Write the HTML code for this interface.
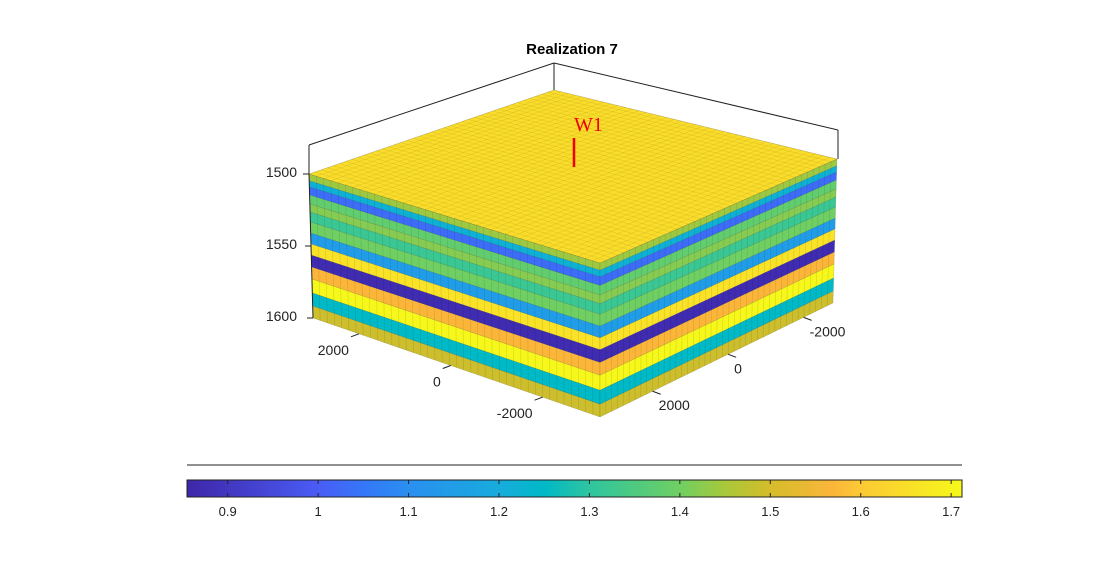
<!DOCTYPE html>
<html><head><meta charset="utf-8"><style>
body{margin:0;background:#fff;}
svg text{font-family:"Liberation Sans",Arial,sans-serif;}
</style></head><body>
<svg id="c" width="1111" height="556" viewBox="0 0 1111 556">
<rect width="1111" height="556" fill="#fff"/>
<text x="572" y="54" text-anchor="middle" font-size="15" font-weight="bold">Realization 7</text>
<g id="box" stroke="#222" stroke-width="1" fill="none">
<line x1="309" y1="145" x2="554" y2="63"/><line x1="554" y1="63" x2="838" y2="130"/>
<line x1="554" y1="63" x2="554" y2="90"/><line x1="309" y1="145" x2="309" y2="174"/><line x1="838" y1="130" x2="838" y2="159"/>
</g>
<g id="model"></g>
<g id="axes" font-size="14" fill="#222"></g>
<g>
<text x="574" y="131" style="font-family:'Liberation Serif',serif" font-size="20" fill="#e00">W1</text>
<line x1="574" y1="138" x2="574" y2="167" stroke="#e00" stroke-width="2.5"/>
</g>
<line x1="187" y1="465" x2="962" y2="465" stroke="#222"/>
<defs><linearGradient id="pg" x1="0" x2="1" y1="0" y2="0"></linearGradient></defs>
<rect x="187" y="480" width="775" height="17" fill="url(#pg)" stroke="#222" stroke-width="1"/>
<g id="cb" font-size="13" fill="#222"></g>
</svg>
<script>
const layerDepths=[1500,1504.7,1509,1514.6,1520.8,1526.4,1533.3,1541,1548.6,1556.3,1564.6,1572.9,1582.6,1591.7,1600];
const layerValues=[1.44,1.22,1.03,1.38,1.42,1.32,1.4,1.15,1.66,0.87,1.57,1.71,1.25,1.49];
const topValue=1.645;
const zTicks=[1500,1550,1600];
const xTicks=[2000,0,-2000];
const yTicks=[-2000,0,2000];
const cbTicks=[0.9,1,1.1,1.2,1.3,1.4,1.5,1.6,1.7];
const cmin=0.855,cmax=1.712;
const NS="http://www.w3.org/2000/svg";
const stops=[[0,"#3e26a8"],[0.169,"#4a5cf5"],[0.23,"#3478f8"],[0.286,"#2a8ff0"],[0.403,"#17acdd"],[0.461,"#00b9c6"],[0.519,"#2ec5a0"],[0.636,"#6fcf62"],[0.695,"#a9c83a"],[0.753,"#d5bc2a"],[0.834,"#fbb63a"],[0.869,"#fcc935"],[1,"#f6f81a"]];
function hex(h){return [1,3,5].map(i=>parseInt(h.substr(i,2),16));}
function cmap(v){let f=Math.max(0,Math.min(1,(v-cmin)/(cmax-cmin)));for(let i=1;i<stops.length;i++){if(f<=stops[i][0]){const a=hex(stops[i-1][1]),b=hex(stops[i][1]);const t=(f-stops[i-1][0])/(stops[i][0]-stops[i-1][0]);return "rgb("+a.map((x,k)=>Math.round(x+(b[k]-x)*t)).join(",")+")";}}return stops[stops.length-1][1];}
const grad=document.getElementById('pg');
stops.forEach(s=>{const st=document.createElementNS(NS,'stop');st.setAttribute('offset',s[0]);st.setAttribute('stop-color',s[1]);grad.appendChild(st);});
const L=[309,174],F=[600,263],R=[837,159],B=[554,90],Lb=[313,318],Fb=[600,417],Rb=[833,303];
const lerp=(a,b,t)=>[a[0]+(b[0]-a[0])*t,a[1]+(b[1]-a[1])*t];
const dmin=1500,dmax=1600;
const zt=d=>(d-dmin)/(dmax-dmin);
function el(tag,attrs,parent){const e=document.createElementNS(NS,tag);for(const k in attrs)e.setAttribute(k,attrs[k]);parent.appendChild(e);return e;}
const model=document.getElementById('model');
function face(A,C,Ab,Cb,nm){
 for(let i=0;i<layerValues.length;i++){
  const t0=zt(layerDepths[i]),t1=zt(layerDepths[i+1]);
  const p1=lerp(A,Ab,t0),p2=lerp(C,Cb,t0),p3=lerp(C,Cb,t1),p4=lerp(A,Ab,t1);
  const p=el('polygon',{points:[p1,p2,p3,p4].map(q=>q.join(",")).join(" "),fill:cmap(layerValues[i]),stroke:"rgba(0,0,0,0.2)","stroke-width":0.5},model);
  
  
 }
 const N=40;
 for(let j=1;j<N;j++){const u=j/N;const a=lerp(A,C,u),b=lerp(Ab,Cb,u);
  el('line',{x1:a[0],y1:a[1],x2:b[0],y2:b[1],stroke:"rgba(0,0,0,0.13)","stroke-width":0.6},model);}
}
face(L,F,Lb,Fb,'left-face');
face(F,R,Fb,Rb,'right-face');
const topFace=el('polygon',{points:[L,F,R,B].map(q=>q.join(",")).join(" "),fill:cmap(topValue),stroke:"rgba(0,0,0,0.3)","stroke-width":0.5},model);


for(let j=1;j<40;j++){const u=j/40;
 let a=lerp(L,F,u),b=lerp(B,R,u);el('line',{x1:a[0],y1:a[1],x2:b[0],y2:b[1],stroke:"rgba(0,0,0,0.09)","stroke-width":0.6},model);
 a=lerp(L,B,u);b=lerp(F,R,u);el('line',{x1:a[0],y1:a[1],x2:b[0],y2:b[1],stroke:"rgba(0,0,0,0.09)","stroke-width":0.6},model);}
const ax=document.getElementById('axes');
el('line',{x1:L[0],y1:L[1],x2:Lb[0],y2:Lb[1],stroke:"#222"},ax);
zTicks.forEach(z=>{const y=L[1]+(Lb[1]-L[1])*zt(z);const x=L[0]+(Lb[0]-L[0])*zt(z);
 el('line',{x1:x-6,y1:y,x2:x,y2:y,stroke:"#222"},ax);
 const t=el('text',{x:297,y:y+3,"text-anchor":"end"},ax);t.textContent=z;
 
 });
const xl=v=>0.48-v*0.00016;
xTicks.forEach(v=>{const p=lerp(Lb,Fb,xl(v));
 el('line',{x1:p[0],y1:p[1],x2:p[0]-8,y2:p[1]+3,stroke:"#222"},ax);
 const t=el('text',{x:p[0]-10,y:p[1]+21,"text-anchor":"end"},ax);t.textContent=v;
 
 });
const yl=v=>0.45+v*0.000162;
yTicks.forEach(v=>{const p=lerp(Rb,Fb,yl(v));
 el('line',{x1:p[0],y1:p[1],x2:p[0]+8,y2:p[1]+3,stroke:"#222"},ax);
 const t=el('text',{x:p[0]+6,y:p[1]+19,"text-anchor":"start"},ax);t.textContent=v;
 
 });
const cb=document.getElementById('cb');
cbTicks.forEach(v=>{const x=187+(v-cmin)/(cmax-cmin)*775;
 el('line',{x1:x,y1:480,x2:x,y2:484,stroke:"#222"},cb);
 el('line',{x1:x,y1:493,x2:x,y2:497,stroke:"#222"},cb);
 const t=el('text',{x:x,y:516,"text-anchor":"middle"},cb);t.textContent=v;
 
 });
</script>
</body></html>
